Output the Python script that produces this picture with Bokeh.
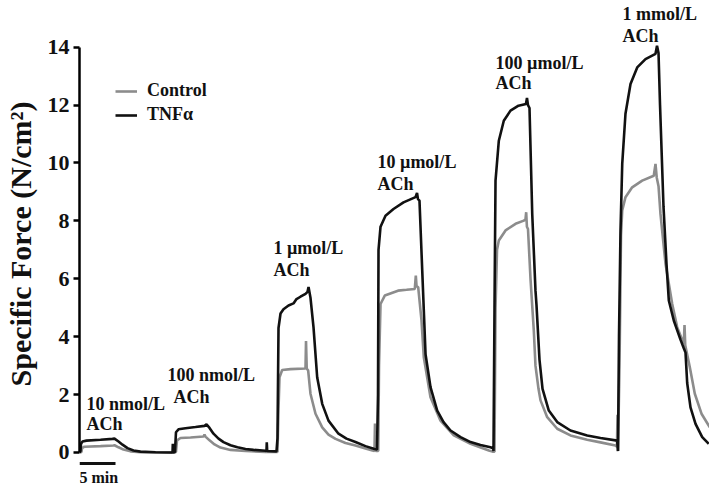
from bokeh.plotting import figure
from bokeh.models import Range1d, FixedTicker
from bokeh.core.properties import value
from bokeh.embed import file_html
from bokeh.resources import INLINE

# ---- data (time in minutes, specific force in N/cm^2) ----
tnf_t = [0.0, 0.14, 0.21, 0.42, 0.97, 2.92, 4.58, 4.86, 5.42, 5.97, 6.67, 7.5, 8.47, 10.56, 12.78,
         12.92, 12.96, 13.01, 13.26, 13.4, 13.75, 14.72, 16.11, 17.36, 17.64, 18.06, 18.61, 19.31, 20.0,
         20.97, 21.94, 23.06, 24.17, 25.83,
         25.97, 26.01, 26.07, 27.36, 27.5, 27.64, 27.92, 28.33, 29.03, 29.72, 30.14, 30.69, 31.39, 31.67,
         31.81, 32.08, 32.5, 33.01, 33.71, 34.58, 35.97, 37.08, 38.33, 39.72, 40.97, 41.32,
         41.46, 41.53, 41.81, 42.5, 43.61, 45.0, 46.67, 46.88, 47.01, 47.22, 47.6, 48.06, 48.75, 49.68,
         50.56, 51.53, 52.92, 54.31, 55.69, 57.08, 57.43,
         57.5, 57.64, 57.78, 58.24, 58.93, 59.86, 60.97, 62.01, 62.15, 62.29, 62.5, 62.88, 63.33, 63.47,
         63.89, 64.31, 65.18, 66.35, 68.19, 70.51, 72.36, 74.68,
         74.79, 74.93, 75.14, 75.38, 75.83, 76.53, 77.46, 78.61, 80.0, 80.21, 80.42, 80.63, 81.11, 81.53,
         81.85, 82.54, 83.47, 83.93, 84.17, 84.4, 84.86, 85.56, 86.49, 87.4]
tnf_f = [0.0, 0.05, 0.30, 0.38, 0.41, 0.44, 0.47, 0.48, 0.38, 0.27, 0.15, 0.07, 0.03, 0.01, 0.0,
         0.0, 0.30, 0.0, 0.02, 0.70, 0.80, 0.84, 0.88, 0.92, 0.97, 0.85, 0.65, 0.48, 0.36,
         0.25, 0.18, 0.12, 0.09, 0.06,
         0.05, 0.35, 0.05, 0.04, 0.5, 4.3, 4.8, 4.95, 5.08, 5.15, 5.3, 5.38, 5.48, 5.55,
         5.72, 5.35, 4.33, 2.6, 1.68, 1.1, 0.65, 0.48, 0.36, 0.22, 0.12, 0.10,
         2.0, 7.0, 7.8, 8.18, 8.41, 8.64, 8.82, 8.97, 8.75, 8.7, 6.3, 3.4, 2.26, 1.45,
         1.05, 0.76, 0.53, 0.36, 0.26, 0.18, 0.15,
         0.05, 5.0, 9.39, 10.77, 11.46, 11.81, 11.98, 12.04, 12.25, 12.0, 11.9, 8.24, 5.6, 5.1,
         3.2, 2.2, 1.45, 1.05, 0.76, 0.59, 0.50, 0.41,
         0.05, 4.0, 7.67, 9.97, 11.7, 12.73, 13.3, 13.59, 13.77, 14.05, 13.8, 12.0, 8.5, 6.5,
         5.25, 4.56, 3.9, 3.6, 3.45, 2.4, 1.56, 0.99, 0.53, 0.3]

ctrl_t = [0.0, 0.28, 0.35, 0.69, 2.92, 4.72, 4.86, 5.42, 6.11, 7.08, 8.47, 12.78,
          13.06, 13.4, 13.54, 14.03, 15.42, 17.22, 17.36, 17.5, 18.06, 18.75, 19.58, 20.97, 23.06, 25.83,
          27.5, 27.64, 27.78, 28.15, 29.31, 31.39, 31.46, 31.56, 31.76, 32.08, 32.78, 33.71, 34.58, 35.56,
          36.94, 38.33, 39.72, 40.69,
          40.97, 41.04, 41.14, 41.49, 41.6, 41.81, 42.4, 44.24, 45.42, 46.57, 46.71, 46.81, 47.04, 47.5,
          47.82, 48.75, 50.14, 51.99, 54.31, 56.85, 57.36,
          57.64, 57.78, 57.99, 58.24, 59.17, 60.56, 61.71, 61.94, 62.04, 62.14, 62.29, 62.64, 63.1, 63.33,
          63.75, 64.03, 64.96, 66.35, 68.19, 70.51, 72.36, 74.44,
          74.65, 74.72, 74.79, 75.0, 75.21, 75.38, 75.83, 76.76, 78.15, 79.76, 80.0, 80.17, 80.42, 80.69,
          81.39, 82.32, 83.01, 83.93, 84.03, 84.13, 84.76, 85.46, 86.39, 87.54]
ctrl_f = [0.0, 0.02, 0.15, 0.20, 0.22, 0.24, 0.25, 0.18, 0.10, 0.04, 0.01, 0.0,
          0.0, 0.02, 0.42, 0.50, 0.52, 0.55, 0.62, 0.55, 0.42, 0.28, 0.17, 0.09, 0.05, 0.02,
          0.02, 1.5, 2.6, 2.85, 2.88, 2.9, 3.85, 2.9, 2.83, 2.03, 1.34, 0.87, 0.62, 0.47,
          0.33, 0.24, 0.14, 0.07,
          0.05, 1.0, 0.05, 0.05, 3.0, 5.13, 5.42, 5.59, 5.62, 5.65, 6.11, 5.75, 5.71, 4.56,
          3.29, 1.91, 1.1, 0.59, 0.3, 0.07, 0.03,
          0.03, 5.0, 7.0, 7.32, 7.67, 7.9, 8.01, 8.05, 8.3, 7.8, 7.72, 6.0, 4.2, 3.0,
          2.2, 1.8, 1.22, 0.82, 0.59, 0.44, 0.35, 0.24,
          0.2, 1.3, 0.05, 3.0, 7.5, 8.36, 8.82, 9.16, 9.39, 9.56, 9.97, 9.5, 9.2, 8.24,
          6.52, 5.13, 4.33, 3.75, 4.4, 3.7, 2.95, 2.03, 1.34, 0.87]

dose_labels = ["10 nmol/L", "100 nmol/L", "1 \u00b5mol/L", "10 \u00b5mol/L", "100 \u00b5mol/L", "1 mmol/L"]
agent_label = "ACh"
y_ticks = [0, 2, 4, 6, 8, 10, 12, 14]
scale_bar_minutes = 5

# ---- annotation positions (data coordinates) ----
dose_x = [0.97, 12.22, 26.94, 41.39, 57.78, 75.42]
dose_y = [1.69, 2.66, 7.08, 10.05, 13.47, 15.15]
ach_x = [0.97, 13.06, 26.94, 41.39, 57.78, 75.42]
ach_y = [1.0, 1.93, 6.32, 9.29, 12.75, 14.4]
bar_x0, bar_y, bar_text_y = 0.0, -0.38, -0.86

FONT = "Liberation Serif"

p = figure(width=709, height=487, output_backend="svg", toolbar_location=None,
           x_range=Range1d(0, 87.5), y_range=Range1d(-1.209, 15.613),
           min_border_left=79, min_border_right=0, min_border_top=0, min_border_bottom=0,
           x_axis_location=None, background_fill_color="white", border_fill_color="white")
p.outline_line_color = None
p.grid.visible = False

p.line(ctrl_t, ctrl_f, line_color="#8c8c8c", line_width=2.6, legend_label="Control")
p.line(tnf_t, tnf_f, line_color="#111111", line_width=2.6, legend_label="TNF\u03b1")

p.text(x=dose_x, y=dose_y, text=dose_labels, text_font=value(FONT), text_font_style="bold",
       text_font_size="18px", text_align="left", text_baseline="middle", text_color="#111111")
p.text(x=ach_x, y=ach_y, text=[agent_label] * len(ach_x), text_font=value(FONT), text_font_style="bold",
       text_font_size="18px", text_align="left", text_baseline="middle", text_color="#111111")

# time scale bar (5 min)
p.segment(x0=[bar_x0], y0=[bar_y], x1=[bar_x0 + scale_bar_minutes], y1=[bar_y],
          line_color="#111111", line_width=3)
p.text(x=[bar_x0], y=[bar_text_y], text=[f"{scale_bar_minutes} min"], text_font=value(FONT),
       text_font_style="bold", text_font_size="16px", text_align="left", text_baseline="middle",
       text_color="#111111")

ax = p.yaxis[0]
ax.bounds = (0, 14)
ax.ticker = FixedTicker(ticks=y_ticks)
ax.minor_tick_line_color = None
ax.major_tick_in = 0
ax.major_tick_out = 6
ax.major_tick_line_width = 2.5
ax.axis_line_width = 2.5
ax.major_label_standoff = 4
ax.major_label_text_font = FONT
ax.major_label_text_font_style = "bold"
ax.major_label_text_font_size = "22px"
ax.major_label_text_color = "#111111"
ax.axis_label = "Specific Force (N/cm\u00b2)"
ax.axis_label_text_font = FONT
ax.axis_label_text_font_style = "bold"
ax.axis_label_text_font_size = "30px"
ax.axis_label_text_color = "#111111"
ax.axis_label_standoff = 8

lg = p.legend[0]
lg.location = (36, 362)
lg.border_line_color = None
lg.background_fill_alpha = 0
lg.padding = 0
lg.margin = 0
lg.spacing = 3
lg.glyph_width = 22
lg.glyph_height = 20
lg.label_height = 20
lg.label_standoff = 10
lg.label_text_font = FONT
lg.label_text_font_style = "bold"
lg.label_text_font_size = "18px"
lg.label_text_color = "#111111"

open("out.html", "w").write(file_html(p, INLINE))
